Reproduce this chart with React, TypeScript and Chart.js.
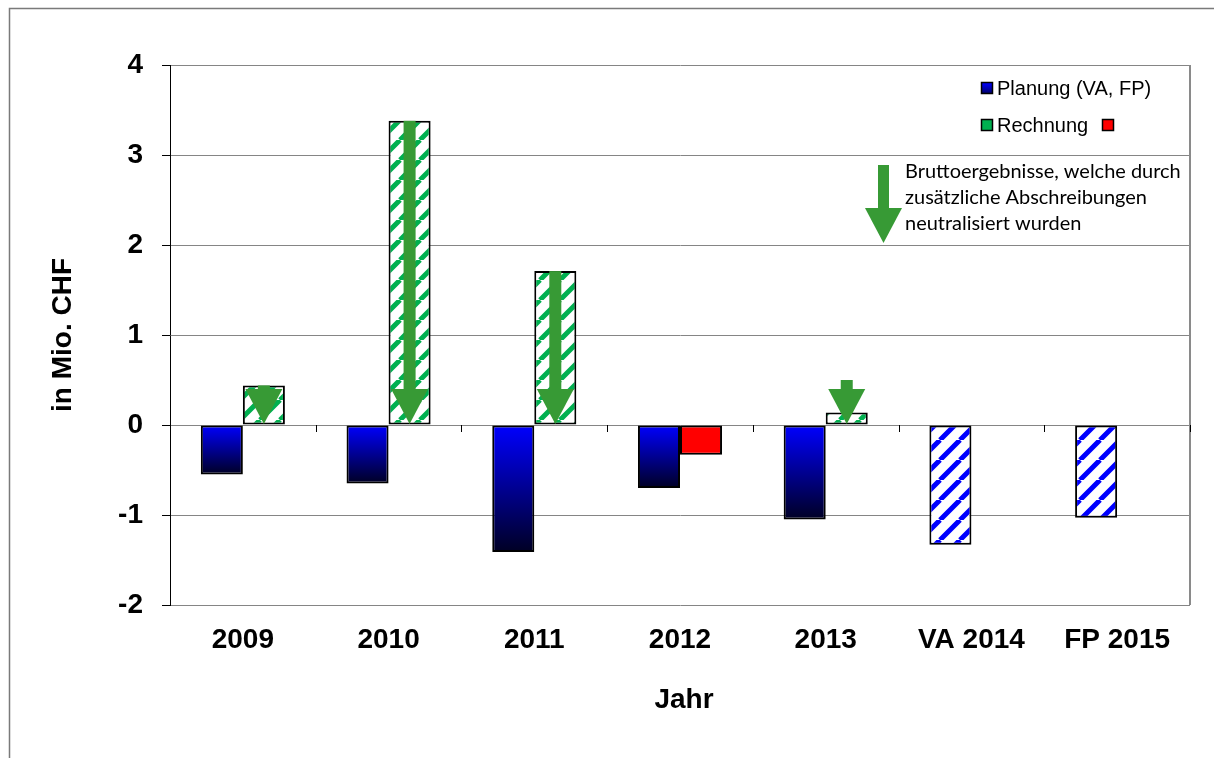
import React, { useEffect, useRef } from 'react';
import { Chart, registerables } from 'chart.js';

Chart.register(...registerables);

const categories = ['2009', '2010', '2011', '2012', '2013', 'VA 2014', 'FP 2015'];
const planung = [-0.55, -0.65, -1.41, -0.7, -1.05, -1.33, -1.03];
const rechnung: (number | null)[] = [0.44, 3.38, 1.71, -0.33, 0.14, null, null];
const arrowTops: (number | null)[] = [0.44, 3.38, 1.71, null, 0.5, null, null];
const yTicks = [-2, -1, 0, 1, 2, 3, 4];
const legendLabels = ['Planung (VA, FP)', 'Rechnung'];
const noteLines = ['Bruttoergebnisse, welche durch', 'zusätzliche Abschreibungen', 'neutralisiert wurden'];
const yTitle = 'in Mio. CHF';
const xTitle = 'Jahr';

const FONT = '"Liberation Sans", Arial, sans-serif';
const GREEN_ARROW = '#379a35';
const GREEN_HATCH = '#00b050';
const BLUE = '#0000ff';

function hatch(color: string) {
  const s = 20;
  const c = document.createElement('canvas');
  c.width = s;
  c.height = s;
  const g = c.getContext('2d')!;
  g.fillStyle = '#ffffff';
  g.fillRect(0, 0, s, s);
  g.strokeStyle = color;
  g.lineWidth = 5;
  g.beginPath();
  for (const o of [-s, 0, s]) {
    g.moveTo(o, s);
    g.lineTo(o + s, 0);
  }
  g.stroke();
  return g.createPattern(c, 'repeat') as CanvasPattern;
}

function drawArrow(ctx: CanvasRenderingContext2D, x: number, yTop: number, yTip: number, shaftW: number, headW: number, headH: number) {
  ctx.save();
  ctx.fillStyle = GREEN_ARROW;
  const headTop = yTip - headH;
  if (yTop < headTop) ctx.fillRect(x - shaftW / 2, yTop, shaftW, headTop - yTop + 0.5);
  ctx.beginPath();
  ctx.moveTo(x - headW / 2, headTop);
  ctx.lineTo(x + headW / 2, headTop);
  ctx.lineTo(x, yTip);
  ctx.closePath();
  ctx.fill();
  ctx.restore();
}

export default function App() {
  const ref = useRef<HTMLCanvasElement | null>(null);

  useEffect(() => {
    const canvas = ref.current;
    if (!canvas) return;
    const greenPattern = hatch(GREEN_HATCH);
    const bluePattern = hatch(BLUE);

    const decor = {
      id: 'decor',
      afterDatasetsDraw(chart: any) {
        const ctx = chart.ctx as CanvasRenderingContext2D;
        const y = chart.scales.y;
        const y0 = y.getPixelForValue(0);
        const meta = chart.getDatasetMeta(1);
        arrowTops.forEach((v, i) => {
          if (v == null) return;
          const el = meta.data[i];
          drawArrow(ctx, el.x, y.getPixelForValue(v), y0 - 1, 12, 37, 35);
        });
      },
      afterDraw(chart: any) {
        const ctx = chart.ctx as CanvasRenderingContext2D;
        const area = chart.chartArea;
        const y = chart.scales.y;
        const y0 = y.getPixelForValue(0);
        ctx.save();
        // outer frame
        ctx.strokeStyle = '#7a7a7a';
        ctx.lineWidth = 1.5;
        ctx.beginPath();
        ctx.moveTo(9.5, 780);
        ctx.lineTo(9.5, 8.5);
        ctx.lineTo(1240, 8.5);
        ctx.stroke();
        // right border of plot area
        ctx.strokeStyle = '#8a8a8a';
        ctx.lineWidth = 2;
        ctx.beginPath();
        ctx.moveTo(area.right, area.top);
        ctx.lineTo(area.right, area.bottom);
        ctx.stroke();
        // x-axis tick marks at zero line
        const n = categories.length;
        const cw = (area.right - area.left) / n;
        ctx.strokeStyle = '#000';
        ctx.lineWidth = 1;
        for (let k = 0; k <= n; k++) {
          const x = Math.round(area.left + k * cw) + 0.5;
          ctx.beginPath();
          ctx.moveTo(x, y0);
          ctx.lineTo(x, y0 + 7);
          ctx.stroke();
        }
        // axis titles
        ctx.fillStyle = '#000';
        ctx.font = `bold 28px ${FONT}`;
        ctx.textAlign = 'center';
        ctx.textBaseline = 'middle';
        ctx.fillText(xTitle, 684, 700);
        ctx.save();
        ctx.translate(63, 335);
        ctx.rotate(-Math.PI / 2);
        ctx.fillText(yTitle, 0, 0);
        ctx.restore();
        // legend
        const sq = (x: number, yy: number, fill: string | CanvasGradient) => {
          ctx.fillStyle = fill;
          ctx.fillRect(x, yy, 11, 11);
          ctx.strokeStyle = '#000';
          ctx.lineWidth = 1.5;
          ctx.strokeRect(x, yy, 11, 11);
        };
        const lg = ctx.createLinearGradient(0, 83, 0, 94);
        lg.addColorStop(0, '#0000ff');
        lg.addColorStop(1, '#000060');
        sq(981.5, 82.5, lg);
        sq(981.5, 119.5, GREEN_HATCH);
        sq(1102.5, 119.5, '#ff0000');
        ctx.fillStyle = '#000';
        ctx.font = `20px ${FONT}`;
        ctx.textAlign = 'left';
        ctx.textBaseline = 'middle';
        ctx.fillText(legendLabels[0], 997, 89);
        ctx.fillText(legendLabels[1], 997, 126);
        // note arrow + text
        drawArrow(ctx, 883.5, 165, 243, 11, 37, 35);
        const fam = 'Lato, "Noto Sans", sans-serif';
        ctx.font = `18px ${fam}`;
        const w = ctx.measureText(noteLines[0]).width;
        const fs = (18 * 276) / w;
        ctx.font = `${fs.toFixed(2)}px ${fam}`;
        noteLines.forEach((t, i) => ctx.fillText(t, 905, 172 + i * 26));
        ctx.restore();
      },
    };

    const chart = new Chart(canvas, {
      type: 'bar',
      data: {
        labels: categories,
        datasets: [
          {
            label: legendLabels[0],
            data: planung,
            backgroundColor: (c: any) => {
              if (c.type !== 'data') return BLUE;
              const i = c.dataIndex;
              if (i >= 5) return bluePattern;
              const ch = c.chart;
              const ys = ch.scales.y;
              if (!ys || !ch.chartArea) return BLUE;
              const a = ys.getPixelForValue(0);
              const b = ys.getPixelForValue(planung[i]);
              const g = ch.ctx.createLinearGradient(0, a, 0, b);
              g.addColorStop(0, '#0000ff');
              g.addColorStop(1, '#000024');
              return g;
            },
            borderColor: '#000',
            borderWidth: 2,
            borderSkipped: false,
          },
          {
            label: legendLabels[1],
            data: rechnung,
            backgroundColor: (c: any) => (c.dataIndex === 3 ? '#ff0000' : greenPattern),
            borderColor: '#000',
            borderWidth: 2,
            borderSkipped: false,
          },
        ],
      },
      options: {
        responsive: false,
        animation: false,
        categoryPercentage: 0.577,
        barPercentage: 1,
        layout: { padding: { left: 0, right: 24, top: 65, bottom: 0 } },
        plugins: { legend: { display: false }, tooltip: { enabled: false } },
        scales: {
          x: {
            grid: { display: false, drawTicks: false },
            border: { display: false },
            ticks: { font: { family: FONT, size: 28, weight: 'bold' }, color: '#000', padding: 18, maxRotation: 0, autoSkip: false },
            afterFit: (s: any) => {
              s.height = 153;
            },
          },
          y: {
            min: -2,
            max: 4,
            afterBuildTicks: (s: any) => {
              s.ticks = yTicks.map((v) => ({ value: v }));
            },
            ticks: { font: { family: FONT, size: 28, weight: 'bold' }, color: '#000', padding: 19 },
            grid: { color: '#858585', tickColor: '#000', tickLength: 8, lineWidth: 1 },
            border: { display: true, color: '#000', width: 1 },
            afterFit: (s: any) => {
              s.width = 170;
            },
          },
        },
      } as any,
      plugins: [decor],
    });
    return () => chart.destroy();
  }, []);

  return (
    <div style={{ position: 'absolute', left: 0, top: 0, width: 1214, height: 758, background: '#fff' }}>
      <canvas ref={ref} width={1214} height={758} style={{ display: 'block' }} />
    </div>
  );
}
